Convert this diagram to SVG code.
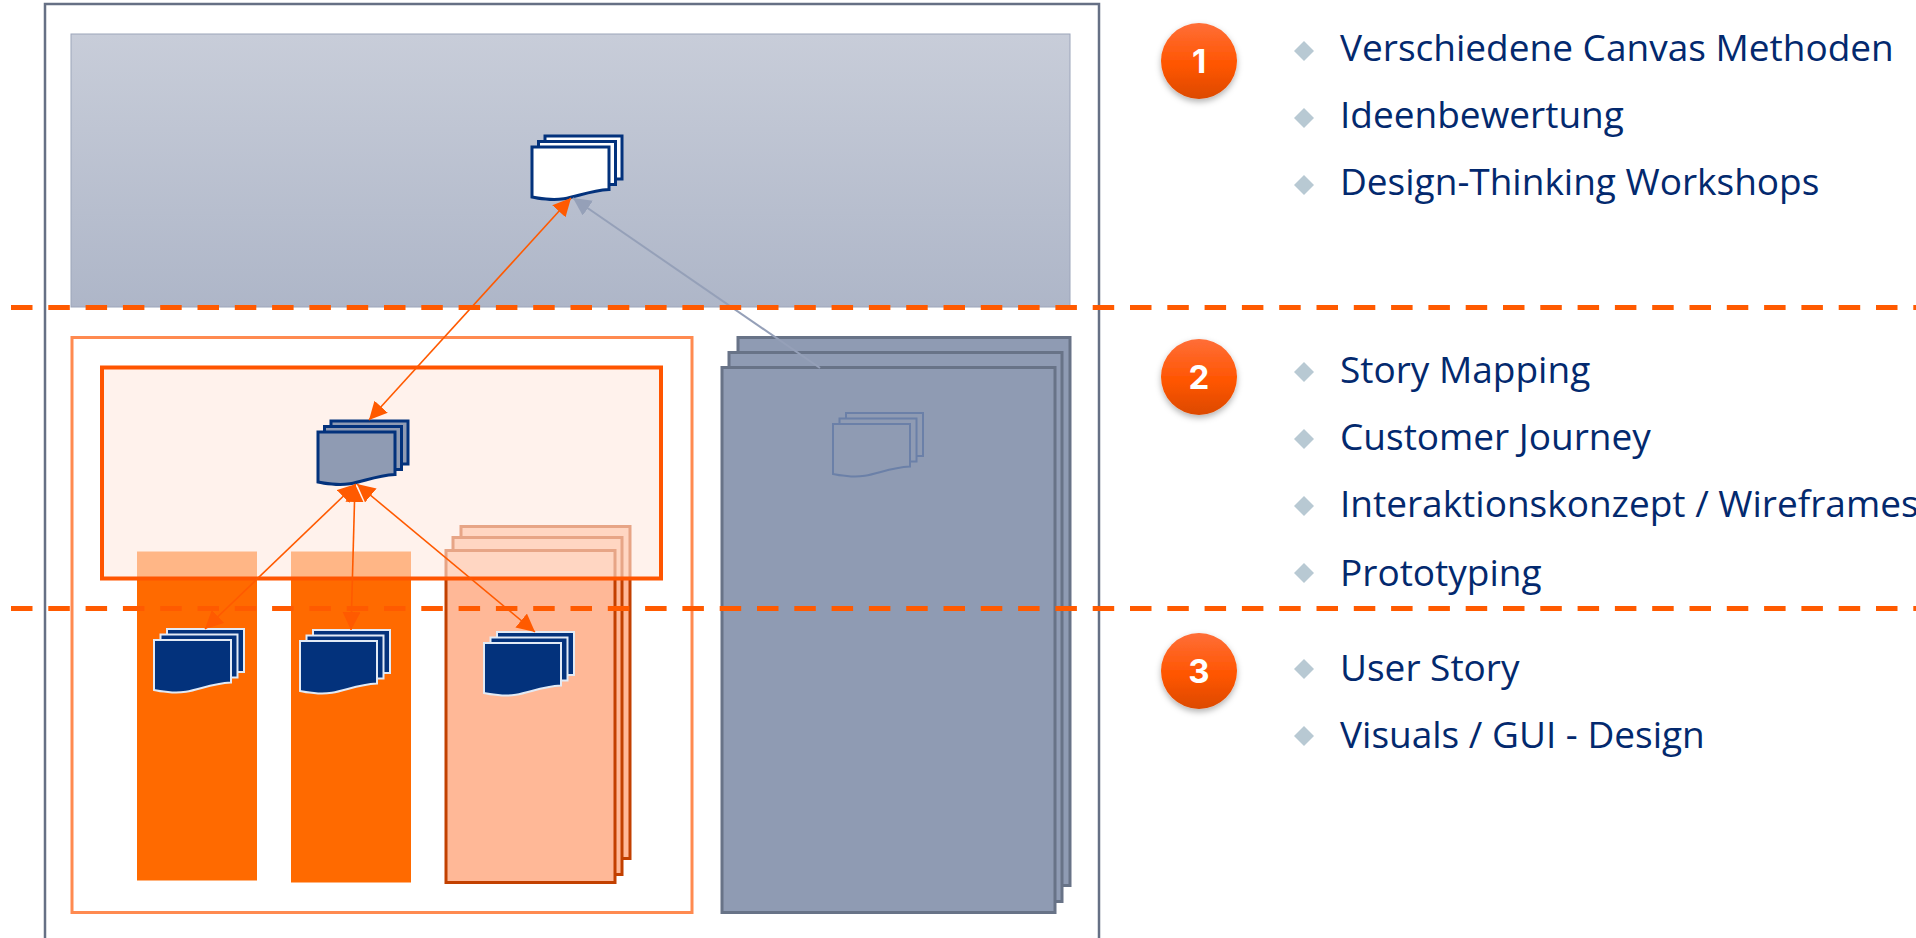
<svg xmlns="http://www.w3.org/2000/svg" xmlns:xlink="http://www.w3.org/1999/xlink" width="1916" height="938" viewBox="0 0 1916 938">
<style>
.dash{fill:none;stroke:#ff5a00;stroke-width:5;stroke-dasharray:21.5 15.8}
.blue{fill:#8f9bb3;stroke:#687387;stroke-width:3}
.ost{fill:#ffb897;stroke:#c24000;stroke-width:3}
.col{fill:#ff6a00}
.arr{fill:none;stroke:#ff5a00;stroke-width:1.6;marker-start:url(#ah);marker-end:url(#ah)}
.item{font-family:"Open Sans",sans-serif;font-size:37px;fill:#03296e}
.num{font-family:Inter,"Open Sans",sans-serif;font-weight:700;font-size:33px;fill:#fff;text-anchor:middle}
.dia{fill:#b8c9d3}
.badge{fill:url(#bg);filter:url(#sh)}
.ic-white{fill:#fff;stroke:#03327c;stroke-width:3}
.ic-mid{fill:#8f9bb3;stroke:#03327c;stroke-width:3}
.ic-dark{fill:#03327c;stroke:#e2eaf5;stroke-width:2}
.ic-faint{fill:#8f9bb3;stroke:#6b80a8;stroke-width:2}
</style>
<defs>
<linearGradient id="band" x1="0" y1="0" x2="0" y2="1"><stop offset="0" stop-color="#c8cdd9"/><stop offset="1" stop-color="#aeb6c8"/></linearGradient>
<linearGradient id="bg" x1="0" y1="0" x2="0" y2="1"><stop offset="0" stop-color="#ff6e38"/><stop offset=".55" stop-color="#ff5500"/><stop offset="1" stop-color="#dc4a04"/></linearGradient>
<filter id="sh" x="-30%" y="-30%" width="160%" height="170%"><feDropShadow dx="0" dy="3" stdDeviation="3" flood-color="#000" flood-opacity=".3"/></filter>
<marker id="ah" markerUnits="userSpaceOnUse" markerWidth="20" markerHeight="20" refX="18" refY="9" orient="auto-start-reverse"><path d="M0 0L18 9L0 18Z" fill="#ff5a00"/></marker>
<marker id="ag" markerUnits="userSpaceOnUse" markerWidth="20" markerHeight="20" refX="18" refY="9" orient="auto"><path d="M0 0L18 9L0 18Z" fill="#95a0b8"/></marker>
<g id="stk">
<rect x="13" y="-11" width="77" height="43"/>
<rect x="6.500" y="-5.500" width="77" height="43"/>
<path d="M0 0H77V42.500C50 44 38 55 14 52C8 51.500 4 51 0 50Z"/>
</g>
</defs>
<g id="frame"><rect x="45" y="4" width="1054" height="960" fill="#fff" stroke="#667085" stroke-width="2.500"/></g>
<g id="band-top"><rect x="71" y="34" width="999" height="273" fill="url(#band)" stroke="#9ca5ba" stroke-width="1"/></g>
<g id="panel-orange"><rect x="72" y="337.500" width="620" height="575" fill="#fff" stroke="#ff8a50" stroke-width="3"/></g>
<g id="col-1"><rect class="col" x="137" y="551.500" width="120" height="329"/></g>
<g id="col-2"><rect class="col" x="291" y="551.500" width="120" height="331"/></g>
<g id="stack-orange">
<rect class="ost" x="461" y="526.500" width="169" height="332"/>
<rect class="ost" x="453" y="537.500" width="169" height="337"/>
<rect class="ost" x="446" y="550.500" width="169" height="332"/>
</g>
<g id="panel-inner"><rect x="102" y="367.500" width="559" height="211" fill="#ffeadf" fill-opacity=".6" stroke="#ff5500" stroke-width="4"/></g>
<g id="stack-blue">
<rect class="blue" x="738" y="337.500" width="332" height="548"/>
<rect class="blue" x="729" y="352.500" width="333" height="549"/>
<rect class="blue" x="722" y="367.500" width="333" height="545"/>
</g>
<g id="icon-top"><use href="#stk" class="ic-white" x="532" y="147"/></g>
<g id="icon-mid"><use href="#stk" class="ic-mid" x="318" y="432"/></g>
<g id="icon-a"><use href="#stk" class="ic-dark" x="154" y="640"/></g>
<g id="icon-b"><use href="#stk" class="ic-dark" x="300" y="641"/></g>
<g id="icon-c"><use href="#stk" class="ic-dark" x="484" y="643"/></g>
<g id="icon-faint"><use href="#stk" class="ic-faint" x="833" y="424"/></g>
<g id="connectors">
<path class="arr" d="M571 198L369 420"/>
<path d="M820 368L573 198" fill="none" stroke="#95a0b8" stroke-width="2" marker-end="url(#ag)"/>
<path class="arr" d="M356 484L205 629"/>
<path class="arr" d="M355 484L351 630"/>
<path class="arr" d="M357 484L535 632"/>
</g>
<g id="dashes">
<path class="dash" d="M11 307.500H1916"/>
<path class="dash" d="M11 608.500H1916"/>
</g>
<g id="badge-1"><circle class="badge" cx="1199" cy="61" r="38"/><text class="num" x="1199" y="73">1</text></g>
<g id="badge-2"><circle class="badge" cx="1199" cy="377" r="38"/><text class="num" x="1199" y="389">2</text></g>
<g id="badge-3"><circle class="badge" cx="1199" cy="671" r="38"/><text class="num" x="1199" y="683">3</text></g>
<g id="list">
<path class="dia" d="M1304 41l10 10l-10 10l-10-10Z"/><text class="item" x="1340" y="61">Verschiedene Canvas Methoden</text>
<path class="dia" d="M1304 108l10 10l-10 10l-10-10Z"/><text class="item" x="1340" y="128">Ideenbewertung</text>
<path class="dia" d="M1304 175l10 10l-10 10l-10-10Z"/><text class="item" x="1340" y="195">Design-Thinking Workshops</text>
<path class="dia" d="M1304 362l10 10l-10 10l-10-10Z"/><text class="item" x="1340" y="383">Story Mapping</text>
<path class="dia" d="M1304 429l10 10l-10 10l-10-10Z"/><text class="item" x="1340" y="450">Customer Journey</text>
<path class="dia" d="M1304 496l10 10l-10 10l-10-10Z"/><text class="item" x="1340" y="517">Interaktionskonzept / Wireframes</text>
<path class="dia" d="M1304 563l10 10l-10 10l-10-10Z"/><text class="item" x="1340" y="586">Prototyping</text>
<path class="dia" d="M1304 659l10 10l-10 10l-10-10Z"/><text class="item" x="1340" y="681">User Story</text>
<path class="dia" d="M1304 726l10 10l-10 10l-10-10Z"/><text class="item" x="1340" y="748">Visuals / GUI - Design</text>
</g>
</svg>
